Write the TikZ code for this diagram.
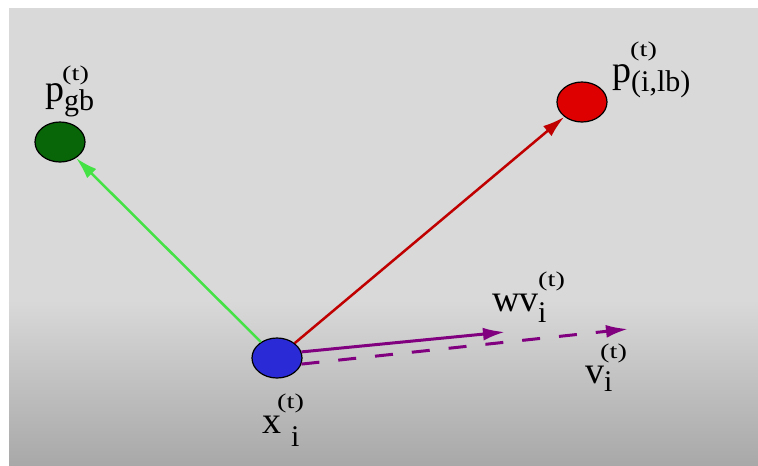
\documentclass[tikz,border=0pt]{standalone}
\usepackage{fontspec}
\setmainfont{Liberation Serif}
\usepackage{tikz}
\usetikzlibrary{arrows.meta, shapes.geometric}

\definecolor{bgtop}{RGB}{217,217,217}
\definecolor{bgbot}{RGB}{168,168,168}
\definecolor{darkgrn}{RGB}{8,102,8}
\definecolor{brightgrn}{RGB}{68,226,68}
\definecolor{ptred}{RGB}{222,0,0}
\definecolor{linered}{RGB}{192,0,0}
\definecolor{ptblue}{RGB}{42,42,214}
\definecolor{vpurple}{RGB}{128,0,128}

\newcommand{\stretchx}[2]{\scalebox{#1}[1]{#2}}

\tikzset{
  particle/.style={ellipse, draw=black, line width=1.2pt, inner sep=0pt,
                   minimum width=50pt, minimum height=40pt},
  sym/.style={inner sep=0pt, anchor=base west, font=\fontsize{38}{38}\selectfont},
  subsym/.style={inner sep=0pt, anchor=base west, font=\fontsize{30}{30}\selectfont},
  iter/.style={inner sep=0pt, anchor=base west, font=\fontsize{21}{21}\selectfont},
  move/.style={->, line width=2.5pt},
}

\begin{document}
\begin{tikzpicture}[x=1pt, y=-1pt, >={Latex[length=22pt,width=13pt]}]
                \useasboundingbox (0,0) rectangle (758,466);
                % backdrop
                \fill[bgtop] (9,8) rectangle (758,300);
                \shade[top color=bgtop, bottom color=bgbot] (9,300) rectangle (758,466);

                % particles
                \node[particle, fill=ptblue] (x) at (277,358) {};
                \node[particle, fill=darkgrn] (pgb) at (60,142) {};
                \node[particle, fill=ptred] (plb) at (582,102) {};

                \coordinate (wvend) at (505,332);
                \coordinate (vend) at (628,329);

                % moves
                \draw[move, brightgrn] (x) -- (pgb);
                \draw[move, linered] (x) -- (plb);
                \draw[move, vpurple, line width=3pt] (x.14) -- (wvend);
                \draw[move, vpurple, line width=3pt, dash pattern=on 18pt off 19pt] (x.-14) -- (vend);

                % labels
                \node[sym] (pgbl) at (45,101) {p};
                \node[subsym] (pgbs) at (64,110) {gb};
                \node[iter] (pgbt) at (62,80) {\stretchx{1.35}{(t)}};

                \node[sym] (plbl) at (612,82) {p};
                \node[subsym] (plbs) at (631,91) {(i,lb)};
                \node[iter] (plbt) at (630,56) {\stretchx{1.35}{(t)}};

                \node[sym] (wvl) at (492,311) {wv};
                \node[subsym] (wvs) at (538,322) {i};
                \node[iter] (wvt) at (538,286) {\stretchx{1.35}{(t)}};

                \node[sym] (vl) at (585,383) {v};
                \node[subsym] (vs) at (604,391) {i};
                \node[iter] (vt) at (600,358) {\stretchx{1.35}{(t)}};

                \node[sym] (xl) at (262,433) {x};
                \node[subsym] (xs) at (291,446) {i};
                \node[iter] (xt) at (277,408) {\stretchx{1.35}{(t)}};
            \end{tikzpicture}
\end{document}
